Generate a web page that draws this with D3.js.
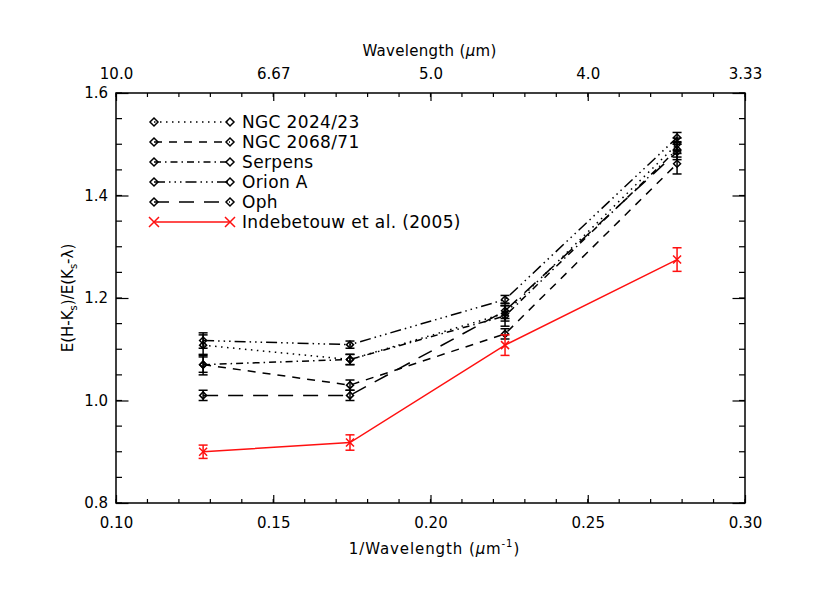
<!DOCTYPE html>
<html>
<head>
<meta charset="utf-8">
<script src="https://cdn.jsdelivr.net/npm/d3@7"></script>
<style>
  html, body { margin: 0; padding: 0; background: #fff; }
  svg { display: block; }
  text { font-family: "DejaVu Sans", sans-serif; fill: #000; }
</style>
</head>
<body>
<svg id="chart" width="830" height="593"></svg>
<script>
// ---------------- data ----------------
const invWavelength = [0.1277, 0.1744, 0.2237, 0.2784];

const seriesNames = ["NGC 2024/23", "NGC 2068/71", "Serpens", "Orion A", "Oph", "Indebetouw et al. (2005)"];

const ngc2024Values = [1.108, 1.080, 1.170, 1.500];
const ngc2024Errors = [0.020, 0.010, 0.015, 0.012];
const ngc2068Values = [1.070, 1.030, 1.130, 1.462];
const ngc2068Errors = [0.015, 0.010, 0.010, 0.020];
const serpensValues = [1.070, 1.080, 1.165, 1.490];
const serpensErrors = [0.020, 0.010, 0.020, 0.015];
const orionAValues = [1.117, 1.109, 1.197, 1.513];
const orionAErrors = [0.015, 0.007, 0.008, 0.010];
const ophValues = [1.010, 1.010, 1.175, 1.485];
const ophErrors = [0.010, 0.010, 0.015, 0.015];
const indebetouwValues = [0.900, 0.918, 1.108, 1.275];
const indebetouwErrors = [0.013, 0.015, 0.020, 0.023];

const xTickValues = [0.10, 0.15, 0.20, 0.25, 0.30];
const xTickLabels = ["0.10", "0.15", "0.20", "0.25", "0.30"];
const topTickLabels = ["10.0", "6.67", "5.0", "4.0", "3.33"];
const yTickValues = [0.8, 1.0, 1.2, 1.4, 1.6];
const yTickLabels = ["0.8", "1.0", "1.2", "1.4", "1.6"];

// ---------------- styles ----------------
const styles = [
  { color: "#000", dash: "1.5,4.5", marker: "diamond" },
  { color: "#000", dash: "8,7", marker: "diamond" },
  { color: "#000", dash: "7,4,1.5,4", marker: "diamond" },
  { color: "#000", dash: "11,4,1.5,4,1.5,4,1.5,4", marker: "diamond" },
  { color: "#000", dash: "15,10", marker: "diamond" },
  { color: "#ff1010", dash: null, marker: "cross" }
];

const seriesValues = [ngc2024Values, ngc2068Values, serpensValues, orionAValues, ophValues, indebetouwValues];
const seriesErrors = [ngc2024Errors, ngc2068Errors, serpensErrors, orionAErrors, ophErrors, indebetouwErrors];

// ---------------- layout ----------------
const L = 116, R = 745, T = 93, B = 503;
const svg = d3.select("#chart");
const x = d3.scaleLinear().domain([0.10, 0.30]).range([L, R]);
const y = d3.scaleLinear().domain([0.8, 1.6]).range([B, T]);

const xMinor = d3.range(0.10, 0.3001, 0.01);
const yMinor = d3.range(0.8, 1.6001, 0.05);

// bottom axis
const bottomAxis = d3.axisBottom(x).tickValues(xTickValues)
  .tickFormat((d, i) => xTickLabels[i]).tickSizeInner(-8).tickSizeOuter(0).tickPadding(14);
const gb = svg.append("g").attr("transform", `translate(0,${B})`).call(bottomAxis);
// top axis
const topAxis = d3.axisTop(x).tickValues(xTickValues)
  .tickFormat((d, i) => topTickLabels[i]).tickSizeInner(-8).tickSizeOuter(0).tickPadding(14);
const gt = svg.append("g").attr("transform", `translate(0,${T})`).call(topAxis);
// left axis
const leftAxis = d3.axisLeft(y).tickValues(yTickValues)
  .tickFormat((d, i) => yTickLabels[i]).tickSizeInner(-12.5).tickSizeOuter(0).tickPadding(20);
const gl = svg.append("g").attr("transform", `translate(${L},0)`).call(leftAxis);
// right axis
const rightAxis = d3.axisRight(y).tickValues(yTickValues)
  .tickFormat("").tickSizeInner(-12.5).tickSizeOuter(0);
const gr = svg.append("g").attr("transform", `translate(${R},0)`).call(rightAxis);

[gb, gt, gl, gr].forEach(g => {
  g.select(".domain").remove();
  g.selectAll("line").attr("stroke", "#000").attr("stroke-width", 1.2);
  g.selectAll("text").attr("font-size", 15).attr("font-family", "DejaVu Sans, sans-serif").attr("fill", "#000");
});
gl.selectAll("text").attr("text-anchor", "end").attr("x", -8);

// minor ticks
const minorG = svg.append("g").attr("stroke", "#000").attr("stroke-width", 1.2);
xMinor.forEach(v => {
  minorG.append("line").attr("x1", x(v)).attr("x2", x(v)).attr("y1", B).attr("y2", B - 4);
  minorG.append("line").attr("x1", x(v)).attr("x2", x(v)).attr("y1", T).attr("y2", T + 4);
});
yMinor.forEach(v => {
  minorG.append("line").attr("x1", L).attr("x2", L + 6).attr("y1", y(v)).attr("y2", y(v));
  minorG.append("line").attr("x1", R).attr("x2", R - 6).attr("y1", y(v)).attr("y2", y(v));
});

// frame
svg.append("rect").attr("x", L).attr("y", T).attr("width", R - L).attr("height", B - T)
  .attr("fill", "none").attr("stroke", "#000").attr("stroke-width", 1.5);

// axis titles
const bt = svg.append("text").attr("x", (L + R) / 2 + 4).attr("y", 554).attr("text-anchor", "middle")
  .attr("font-size", 15).attr("letter-spacing", 0.9);
bt.append("tspan").text("1/Wavelength (");
bt.append("tspan").attr("font-style", "italic").text("μ");
bt.append("tspan").text("m");
bt.append("tspan").attr("font-size", 10).attr("dy", -7).text("-1");
bt.append("tspan").attr("dy", 7).text(")");

const tt = svg.append("text").attr("x", (L + R) / 2 - 1).attr("y", 56).attr("text-anchor", "middle")
  .attr("font-size", 15).attr("letter-spacing", 0.3);
tt.append("tspan").text("Wavelength (");
tt.append("tspan").attr("font-style", "italic").text("μ");
tt.append("tspan").text("m)");

const yt = svg.append("text").attr("transform", "translate(73,298) rotate(-90)").attr("text-anchor", "middle").attr("font-size", 15);
yt.append("tspan").text("E(H-K");
yt.append("tspan").attr("font-size", 10).attr("dy", 4).text("s");
yt.append("tspan").attr("dy", -4).text(")/E(K");
yt.append("tspan").attr("font-size", 10).attr("dy", 4).text("s");
yt.append("tspan").attr("dy", -4).text("-λ)");

// markers
function drawMarker(g, cx, cy, st, size) {
  if (st.marker === "diamond") {
    g.append("path")
      .attr("d", `M${cx},${cy - size}L${cx + size},${cy}L${cx},${cy + size}L${cx - size},${cy}Z`)
      .attr("fill", "none").attr("stroke", st.color).attr("stroke-width", 1.5);
  } else {
    g.append("path")
      .attr("d", `M${cx - size},${cy - size}L${cx + size},${cy + size}M${cx - size},${cy + size}L${cx + size},${cy - size}`)
      .attr("fill", "none").attr("stroke", st.color).attr("stroke-width", 1.5);
  }
}

// series
const line = d3.line().x(d => x(d[0])).y(d => y(d[1]));
seriesValues.forEach((vals, si) => {
  const st = styles[si];
  const g = svg.append("g");
  const pts = vals.map((v, i) => [invWavelength[i], v]);
  g.append("path").attr("d", line(pts)).attr("fill", "none")
    .attr("stroke", st.color).attr("stroke-width", 1.5)
    .attr("stroke-dasharray", st.dash);
  pts.forEach((p, i) => {
    const e = seriesErrors[si][i];
    const cx = x(p[0]);
    g.append("line").attr("x1", cx).attr("x2", cx).attr("y1", y(p[1] - e)).attr("y2", y(p[1] + e))
      .attr("stroke", st.color).attr("stroke-width", 1.5);
    [p[1] - e, p[1] + e].forEach(v => {
      g.append("line").attr("x1", cx - 4.5).attr("x2", cx + 4.5).attr("y1", y(v)).attr("y2", y(v))
        .attr("stroke", st.color).attr("stroke-width", 1.5);
    });
    drawMarker(g, cx, y(p[1]), st, st.marker === "diamond" ? 3.5 : 4);
  });
});

// legend
const legX1 = 154, legX2 = 230, legY0 = 122, legDy = 20;
seriesNames.forEach((name, i) => {
  const st = styles[i];
  const ly = legY0 + i * legDy;
  const g = svg.append("g");
  g.append("line").attr("x1", legX1).attr("x2", legX2).attr("y1", ly).attr("y2", ly)
    .attr("stroke", st.color).attr("stroke-width", 1.5).attr("stroke-dasharray", st.dash);
  drawMarker(g, legX1, ly, st, st.marker === "diamond" ? 4 : 5);
  drawMarker(g, legX2, ly, st, st.marker === "diamond" ? 4 : 5);
  g.append("text").attr("x", 242).attr("y", ly + 6).attr("font-size", 17)
    .attr("letter-spacing", 0.35).text(name);
});
</script>
</body>
</html>
